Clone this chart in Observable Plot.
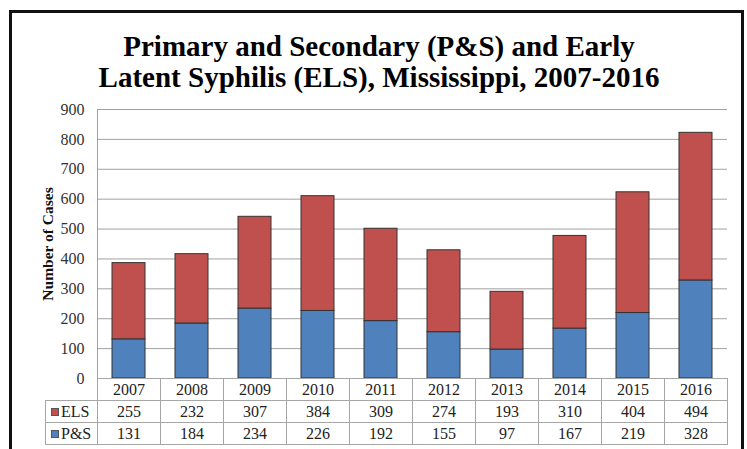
<!DOCTYPE html>
<html><head><meta charset="utf-8">
<script src="https://cdn.jsdelivr.net/npm/d3@7"></script>
<script src="https://cdn.jsdelivr.net/npm/@observablehq/plot@0.6"></script>
<style>
html,body{margin:0;padding:0;background:#fff;overflow:hidden;width:747px;height:449px}
#frame{position:absolute;left:9px;top:10px;width:735px;height:480px;border:3px solid #111;box-sizing:border-box}
#title{position:absolute;left:0;top:31px;width:758px;text-align:center;font-family:"Liberation Serif",serif;font-weight:bold;font-size:29px;line-height:31px;color:#000;white-space:nowrap}
#chart{position:absolute;left:0;top:95px}
#chart svg text{font-family:"Liberation Serif",serif}
#tbl{position:absolute;left:45px;top:378px;border-collapse:collapse;table-layout:fixed;font-family:"Liberation Serif",serif;font-size:16px;color:#222}
#tbl td{border:1px solid #a6a6a6;height:21px;padding:0;text-align:center;line-height:21px;white-space:nowrap}
#tbl td.blank{border-top:none;border-left:none}
#tbl td.leg{text-align:left;padding-left:5px}
.sw{display:inline-block;width:6px;height:6px;border:1px solid #555;margin-right:2px;vertical-align:1px}
</style></head>
<body>
<div id="frame"></div>
<div id="title">Primary and Secondary (P&amp;S) and Early<br>Latent Syphilis (ELS), Mississippi, 2007-2016</div>
<div id="chart"></div>
<table id="tbl"></table>
<script>
const years = ["2007","2008","2009","2010","2011","2012","2013","2014","2015","2016"];
const els = [255,232,307,384,309,274,193,310,404,494];
const ps  = [131,184,234,226,192,155,97,167,219,328];
const seriesNames = ["ELS","P&S"];
const seriesColors = ["#C0504D","#4F81BD"];
const stackOrder = ["P&S","ELS"];
const yTicks = [0,100,200,300,400,500,600,700,800,900];
const yLabel = "Number of Cases";

const rows = [];
years.forEach((yr,i)=>{
  rows.push({year: yr, series: "P&S", value: ps[i]});
  rows.push({year: yr, series: "ELS", value: els[i]});
});

const serif = "Liberation Serif, serif";
const chart = Plot.plot({
  width: 747,
  height: 290,
  marginTop: 14,
  marginBottom: 7,
  marginLeft: 97,
  marginRight: 20,
  style: {fontFamily: serif, background: "transparent", overflow: "visible"},
  x: {type: "band", domain: years, padding: 0, axis: null},
  y: {domain: [0, 900], axis: null},
  color: {domain: seriesNames, range: seriesColors},
  marks: [
    Plot.gridY(yTicks, {stroke: "#a0a0a0", strokeOpacity: 1}),
    Plot.frame({anchor: "left", stroke: "#a0a0a0"}),
    Plot.axisY(yTicks, {tickSize: 0, tickPadding: 13, fontSize: 16, fill: "#333", label: null}),
    Plot.text([yLabel], {frameAnchor: "left", textAnchor: "middle", dx: -49, rotate: -90, fontWeight: "bold", fontSize: 15.5, fill: "#111"}),
    Plot.barY(rows, Plot.stackY({x: "year", y: "value", fill: "series", order: stackOrder, insetLeft: 15, insetRight: 15, stroke: "#333", strokeWidth: 1}))
  ]
});
document.getElementById("chart").appendChild(chart);

// data table below the chart
const tbl = document.getElementById("tbl");
const colg = document.createElement("colgroup");
const c0 = document.createElement("col"); c0.style.width = "52px"; colg.appendChild(c0);
years.forEach(()=>{ const c=document.createElement("col"); c.style.width="63px"; colg.appendChild(c); });
tbl.appendChild(colg);
const tr0 = document.createElement("tr");
const b = document.createElement("td"); b.className="blank"; tr0.appendChild(b);
years.forEach(y=>{ const td=document.createElement("td"); td.textContent=y; tr0.appendChild(td); });
tbl.appendChild(tr0);
[["ELS", els],["P&S", ps]].forEach(([name, vals])=>{
  const tr = document.createElement("tr");
  const lg = document.createElement("td"); lg.className="leg";
  const sw = document.createElement("span"); sw.className="sw"; sw.style.background = seriesColors[seriesNames.indexOf(name)];
  lg.appendChild(sw); lg.appendChild(document.createTextNode(name));
  tr.appendChild(lg);
  vals.forEach(v=>{ const td=document.createElement("td"); td.textContent=v; tr.appendChild(td); });
  tbl.appendChild(tr);
});
</script>
</body></html>
